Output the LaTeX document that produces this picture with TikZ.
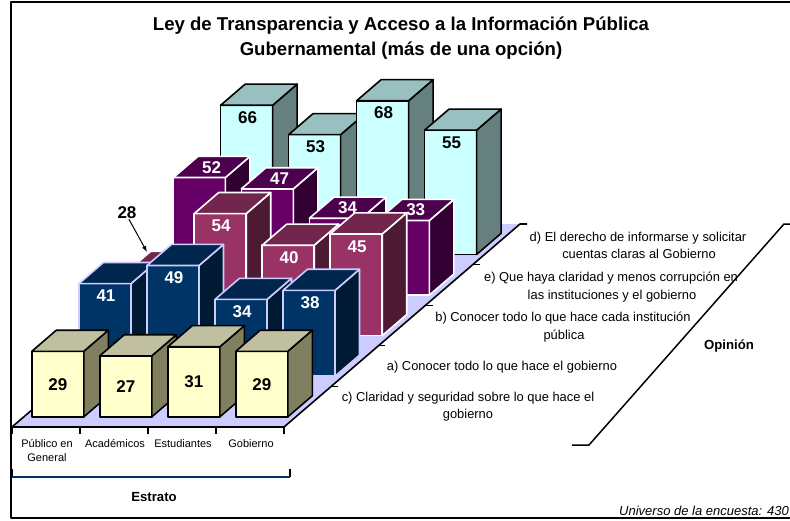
\documentclass[tikz,border=0pt]{standalone}
\usepackage{fontspec}
\setmainfont{Liberation Sans}
\usetikzlibrary{arrows.meta}
\definecolor{cfr}{HTML}{FFFFCC}
\definecolor{ctp}{HTML}{C0C0A0}
\definecolor{csd}{HTML}{808060}
\definecolor{afr}{HTML}{003366}
\definecolor{atp}{HTML}{00264D}
\definecolor{asd}{HTML}{001A33}
\definecolor{bfr}{HTML}{993366}
\definecolor{btp}{HTML}{73264D}
\definecolor{bsd}{HTML}{4D1A33}
\definecolor{efr}{HTML}{660066}
\definecolor{etp}{HTML}{4D004D}
\definecolor{esd}{HTML}{330033}
\definecolor{dfr}{HTML}{CCFFFF}
\definecolor{dtp}{HTML}{99C0C0}
\definecolor{dsd}{HTML}{668080}
\definecolor{floorc}{HTML}{CCCCFF}
\definecolor{navyline}{HTML}{003366}
\definecolor{lav}{HTML}{CCCCFF}
\newcommand\barpos[3]{%
  \pgfmathsetmacro\bx{20+68*#2+(#1+0.25)*47.2}%
  \pgfmathsetmacro\by{427-(#1+0.25)*40.6}%
  \pgfmathsetmacro\bt{\by-2.26*#3}}
\newcommand\cube[4]{% k, i, value, series
  \barpos{#1}{#2}{#3}%
  \filldraw[#4edge, fill=#4fr] (\bx,\bt) rectangle (\bx+52,\by);
  \filldraw[#4edge, fill=#4sd] (\bx+52,\by) -- (\bx+52,\bt) -- (\bx+76.5,\bt-21.1) -- (\bx+76.5,\by-21.1) -- cycle;
  \filldraw[#4edge, fill=#4tp] (\bx,\bt) -- (\bx+52,\bt) -- (\bx+76.5,\bt-21.1) -- (\bx+24.5,\bt-21.1) -- cycle;}
\newcommand\labF[4]{\barpos{#1}{#2}{#3}\node[vlab,text=#4] (v#1#2) at (\bx+27,\bt+12) {#3};}
\newcommand\labM[4]{\barpos{#1}{#2}{#3}\node[vlab,text=#4] (v#1#2) at (\bx+26,\by/2+\bt/2) {#3};}
\newcommand\labT[4]{\barpos{#1}{#2}{#3}\node[vlab,text=#4] (v#1#2) at (\bx+38.3,\bt-10.6) {#3};}
\begin{document}
\begin{tikzpicture}[x=1pt,y=-1pt,line join=round,
  cedge/.style={draw=black,line width=1.6},
  aedge/.style={draw=lav,line width=1.6},
  bedge/.style={draw=white,line width=1.6},
  eedge/.style={draw=white,line width=1.6},
  dedge/.style={draw=black,line width=1.6},
  vlab/.style={font=\fontsize{17}{20}\selectfont\bfseries,inner sep=0pt,text height=12.2pt,text depth=0pt},
  ttl/.style={font=\fontsize{18.6}{22}\selectfont\bfseries,anchor=base,inner sep=0pt},
  catl/.style={font=\fontsize{11}{13}\selectfont,anchor=base,inner sep=0pt},
  opl/.style={font=\fontsize{12.9}{15}\selectfont,anchor=base,inner sep=0pt},
  axt/.style={font=\fontsize{13.2}{15}\selectfont\bfseries,anchor=base,inner sep=0pt}]
\useasboundingbox (0,0) rectangle (790,520);
\fill[white] (0,0) rectangle (790,520);
% frame
\draw[line width=1.3] (791,2) -- (11,2) -- (11,518) -- (791,518);
% title
\node[ttl] (t1) at (401,30.7) {Ley de Transparencia y Acceso a la Información Pública};
\node[ttl] (t2) at (401,55.7) {Gubernamental (más de una opción)};
% floor
\fill[floorc] (12,427) -- (284,427) -- (520,224) -- (248,224) -- cycle;
\draw[line width=1.6] (248,224) -- (12,427) -- (284,427) -- (520,224) -- (527,224);
\foreach \k in {1,...,4} \draw[line width=1.2] (284+47.2*\k,427-40.6*\k) -- ++(7,0);
\foreach \i in {0,...,4} \draw[line width=1.2] (12+68*\i,427) -- ++(0,7);
% series d (back)
\cube{4}{0}{66}{d}\cube{4}{1}{53}{d}\cube{4}{2}{68}{d}\cube{4}{3}{55}{d}
\labF{4}{0}{66}{black}\labF{4}{1}{53}{black}\labF{4}{2}{68}{black}\labF{4}{3}{55}{black}
% series e
\cube{3}{0}{52}{e}\cube{3}{1}{47}{e}\cube{3}{2}{34}{e}\cube{3}{3}{33}{e}
\labT{3}{0}{52}{white}\labT{3}{1}{47}{white}\labT{3}{2}{34}{white}\labT{3}{3}{33}{white}
% series b
\cube{2}{0}{28}{b}\cube{2}{1}{54}{b}\cube{2}{2}{40}{b}\cube{2}{3}{45}{b}
\labF{2}{1}{54}{white}\labF{2}{2}{40}{white}\labF{2}{3}{45}{white}
% series a
\cube{1}{0}{41}{a}\cube{1}{1}{49}{a}\cube{1}{2}{34}{a}\cube{1}{3}{38}{a}
\labF{1}{0}{41}{white}\labF{1}{1}{49}{white}\labF{1}{2}{34}{white}\labF{1}{3}{38}{white}
% series c (front)
\cube{0}{0}{29}{c}\cube{0}{1}{27}{c}\cube{0}{2}{31}{c}\cube{0}{3}{29}{c}
\labM{0}{0}{29}{black}\labM{0}{1}{27}{black}\labM{0}{2}{31}{black}\labM{0}{3}{29}{black}
% hidden value annotation
\node[vlab] (n28) at (127,212) {28};
\coordinate (t28) at (147,252);
\draw[line width=1,-{Latex[length=6,width=4.5]}] ([xshift=2pt,yshift=-1pt]n28.south) -- (t28);
% category labels
\node[catl] (cat1a) at (47,447) {Público en};
\node[catl] (cat1b) at (47,461) {General};
\node[catl] (cat2) at (115,447) {Académicos};
\node[catl] (cat3) at (183,447) {Estudiantes};
\node[catl] (cat4) at (251,447) {Gobierno};
% Estrato bracket
\draw[line width=1.2] (12,469) -- (12,477);
\draw[line width=1.2] (290,469) -- (290,477);
\draw[navyline,line width=1.8] (12,477) -- (290,477);
\node[axt] (estr) at (154,501.8) {Estrato};
% series labels
\node[opl] (od1) at (638,241.6) {d) El derecho de informarse y solicitar};
\node[opl] (od2) at (639,258.6) {cuentas claras al Gobierno};
\node[opl] (oe1) at (611,281.6) {e) Que haya claridad y menos corrupción en};
\node[opl] (oe2) at (612,299.6) {las instituciones y el gobierno};
\node[opl] (ob1) at (563,321.6) {b) Conocer todo lo que hace cada institución};
\node[opl] (ob2) at (564,339.6) {pública};
\node[opl] (oa1) at (502,370.6) {a) Conocer todo lo que hace el gobierno};
\node[opl] (oc1) at (468,401.6) {c) Claridad y seguridad sobre lo que hace el};
\node[opl] (oc2) at (468,418.6) {gobierno};
% Opinion bracket
\draw[line width=1.5] (572,445) -- (589,445) -- (784,224) -- (792,224);
\node[axt] (opin) at (729,349.7) {Opinión};
% footnote
\node[font=\fontsize{13}{15}\selectfont\itshape,anchor=base east,inner sep=0pt] (univ) at (789,515.6) {Universo de la encuesta: 430};
\end{tikzpicture}
\end{document}
